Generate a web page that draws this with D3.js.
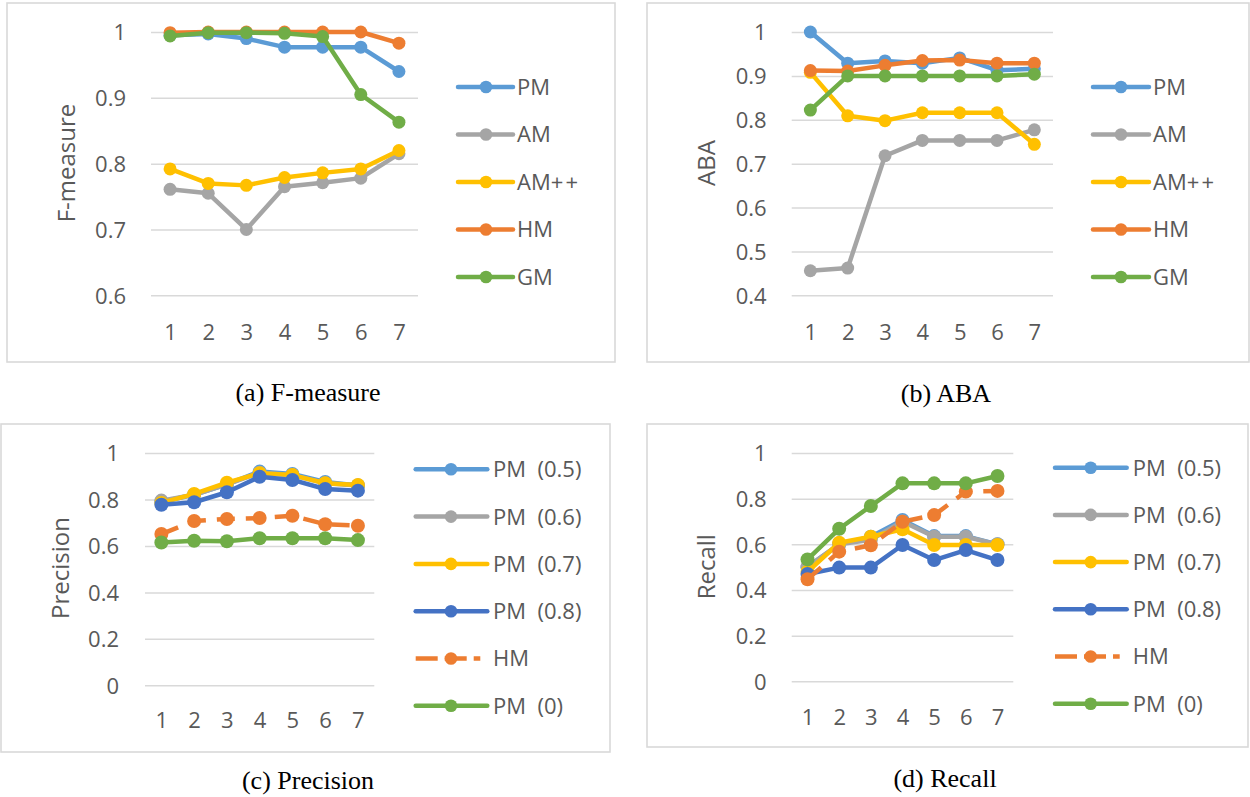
<!DOCTYPE html>
<html>
<head>
<meta charset="utf-8">
<script src="https://cdn.jsdelivr.net/npm/d3@7"></script>
<style>
  html, body { margin: 0; padding: 0; background: #fff; }
  svg { display: block; }
  text { font-family: "Open Sans", "Noto Sans", sans-serif; }
  text.caption { font-family: "Liberation Serif", "Times New Roman", serif; }
</style>
</head>
<body>
<svg id="chart" width="1250" height="797"></svg>
<script>
// ---------------- DATA ----------------
const categories = [1, 2, 3, 4, 5, 6, 7];

// (a) F-measure
const fmTicks = [0.6, 0.7, 0.8, 0.9, 1];
const fmNames = ["PM", "AM", "AM++", "HM", "GM"];
const fmPM   = [0.995, 0.997, 0.990, 0.977, 0.977, 0.977, 0.940];
const fmAM   = [0.761, 0.755, 0.700, 0.765, 0.771, 0.778, 0.815];
const fmAMpp = [0.792, 0.770, 0.767, 0.779, 0.786, 0.792, 0.820];
const fmHM   = [0.999, 1.000, 1.000, 1.000, 1.000, 1.000, 0.983];
const fmGM   = [0.994, 0.999, 0.999, 0.998, 0.993, 0.905, 0.863];

// (b) ABA
const abaTicks = [0.4, 0.5, 0.6, 0.7, 0.8, 0.9, 1];
const abaNames = ["PM", "AM", "AM++", "HM", "GM"];
const abaPM   = [1.000, 0.929, 0.934, 0.929, 0.941, 0.913, 0.916];
const abaAM   = [0.456, 0.462, 0.718, 0.753, 0.753, 0.753, 0.777];
const abaAMpp = [0.908, 0.809, 0.798, 0.816, 0.816, 0.816, 0.744];
const abaHM   = [0.912, 0.911, 0.924, 0.935, 0.936, 0.929, 0.929];
const abaGM   = [0.822, 0.900, 0.900, 0.900, 0.900, 0.900, 0.904];

// (c) Precision
const prTicks = [0, 0.2, 0.4, 0.6, 0.8, 1];
const prNames = ["PM (0.5)", "PM (0.6)", "PM (0.7)", "PM (0.8)", "HM", "PM (0)"];
const prPM05 = [0.790, 0.820, 0.865, 0.920, 0.910, 0.875, 0.860];
const prPM06 = [0.795, 0.820, 0.865, 0.915, 0.905, 0.870, 0.860];
const prPM07 = [0.785, 0.824, 0.872, 0.913, 0.905, 0.870, 0.862];
const prPM08 = [0.777, 0.788, 0.831, 0.898, 0.884, 0.845, 0.838];
const prHM   = [0.651, 0.707, 0.716, 0.720, 0.730, 0.693, 0.687];
const prPM0  = [0.615, 0.622, 0.620, 0.633, 0.633, 0.633, 0.625];

// (d) Recall
const reTicks = [0, 0.2, 0.4, 0.6, 0.8, 1];
const reNames = ["PM (0.5)", "PM (0.6)", "PM (0.7)", "PM (0.8)", "HM", "PM (0)"];
const rePM05 = [0.500, 0.600, 0.633, 0.707, 0.636, 0.636, 0.600];
const rePM06 = [0.502, 0.600, 0.620, 0.700, 0.633, 0.633, 0.600];
const rePM07 = [0.480, 0.607, 0.633, 0.666, 0.597, 0.597, 0.597];
const rePM08 = [0.470, 0.498, 0.498, 0.597, 0.531, 0.575, 0.531];
const reHM   = [0.447, 0.568, 0.596, 0.699, 0.728, 0.831, 0.834];
const rePM0  = [0.534, 0.668, 0.768, 0.867, 0.867, 0.867, 0.899];

const captions = ["(a) F-measure", "(b) ABA", "(c) Precision", "(d) Recall"];
const yTitles = ["F-measure", "ABA", "Precision", "Recall"];

// ---------------- STYLE / LAYOUT ----------------
const C = { blue: "#5B9BD5", orange: "#ED7D31", gray: "#A5A5A5", yellow: "#FFC000", dblue: "#4472C4", green: "#70AD47" };
const textColor = "#595959";
const gridColor = "#D9D9D9";

const panels = [
  { frame: [7, 3, 615, 362], plot: { x0: 151, x1: 418, yTop: 32, yBot: 295.3 }, domain: [0.6, 1], ticks: fmTicks,
    tickRight: 126, xLabelY: 332, titleX: 66, titleY: 163, r: 6.5,
    legend: { lx0: 458, lx1: 513, mx: 486, tx: 517, y0: 87, dy: 47.5 },
    caption: { x: 308, y: 392 },
    series: [[fmNames[0], fmPM, C.blue], [fmNames[1], fmAM, C.gray], [fmNames[2], fmAMpp, C.yellow], [fmNames[3], fmHM, C.orange], [fmNames[4], fmGM, C.green]] },
  { frame: [647, 3, 1249, 362], plot: { x0: 791.7, x1: 1053, yTop: 32, yBot: 295.3 }, domain: [0.4, 1], ticks: abaTicks,
    tickRight: 766.7, xLabelY: 332, titleX: 706, titleY: 163, r: 6.5,
    legend: { lx0: 1093, lx1: 1149, mx: 1121, tx: 1153, y0: 87, dy: 47.5 },
    caption: { x: 946, y: 393 },
    series: [[abaNames[0], abaPM, C.blue], [abaNames[1], abaAM, C.gray], [abaNames[2], abaAMpp, C.yellow], [abaNames[3], abaHM, C.orange], [abaNames[4], abaGM, C.green]] },
  { frame: [1, 424, 610, 752], plot: { x0: 145, x1: 374.3, yTop: 453, yBot: 685.3 }, domain: [0, 1], ticks: prTicks,
    tickRight: 119, xLabelY: 720, titleX: 60, titleY: 568, r: 7,
    legend: { lx0: 415.7, lx1: 487.3, mx: 451, tx: 493, y0: 469.3, dy: 47.3 },
    caption: { x: 308, y: 780 },
    series: [[prNames[0], prPM05, C.blue], [prNames[1], prPM06, C.gray], [prNames[2], prPM07, C.yellow], [prNames[3], prPM08, C.dblue], [prNames[4], prHM, C.orange, true], [prNames[5], prPM0, C.green]] },
  { frame: [647, 424, 1248, 747], plot: { x0: 791.7, x1: 1013.3, yTop: 453, yBot: 681.3 }, domain: [0, 1], ticks: reTicks,
    tickRight: 766.7, xLabelY: 717, titleX: 706.7, titleY: 566.7, r: 7,
    legend: { lx0: 1055, lx1: 1126.7, mx: 1090.7, tx: 1132.7, y0: 467.7, dy: 47.2 },
    caption: { x: 945, y: 778 },
    series: [[reNames[0], rePM05, C.blue], [reNames[1], rePM06, C.gray], [reNames[2], rePM07, C.yellow], [reNames[3], rePM08, C.dblue], [reNames[4], reHM, C.orange, true], [reNames[5], rePM0, C.green]] }
];

const svg = d3.select("#chart");
const fmt = d => (d === 1 ? "1" : d === 0 ? "0" : d3.format(".1f")(d));
const dash = "18,11";

panels.forEach((p, i) => {
  const g = svg.append("g");
  // frame
  g.append("rect")
    .attr("x", p.frame[0]).attr("y", p.frame[1])
    .attr("width", p.frame[2] - p.frame[0]).attr("height", p.frame[3] - p.frame[1])
    .attr("fill", "#fff").attr("stroke", gridColor).attr("stroke-width", 1.6);

  const x = d3.scalePoint().domain(categories).range([p.plot.x0, p.plot.x1]).padding(0.5);
  const y = d3.scaleLinear().domain(p.domain).range([p.plot.yBot, p.plot.yTop]);

  // y axis gridlines + labels
  const yAxis = d3.axisLeft(y).tickValues(p.ticks).tickFormat(fmt)
    .tickSize(-(p.plot.x1 - p.plot.x0)).tickPadding(p.plot.x0 - p.tickRight);
  const ya = g.append("g").attr("transform", `translate(${p.plot.x0},0)`).call(yAxis);
  ya.select(".domain").remove();
  ya.selectAll(".tick line").attr("stroke", gridColor).attr("stroke-width", 1.5);
  ya.selectAll(".tick text").attr("fill", textColor).attr("font-size", 22)
    .style("font-family", "'Open Sans', sans-serif").attr("dy", "0.36em");

  // x axis labels
  const xAxis = d3.axisBottom(x).tickSize(0).tickPadding(0);
  const xa = g.append("g").attr("transform", `translate(0,${p.xLabelY})`).call(xAxis);
  xa.select(".domain").remove();
  xa.selectAll(".tick text").attr("fill", textColor).attr("font-size", 22)
    .style("font-family", "'Open Sans', sans-serif").attr("dy", "0.36em").attr("y", 0);

  // y title
  g.append("text")
    .attr("transform", `translate(${p.titleX},${p.titleY}) rotate(-90)`)
    .attr("text-anchor", "middle").attr("dy", "0.36em")
    .attr("fill", textColor).attr("font-size", 24).text(yTitles[i]);

  // series
  const line = d3.line().x((d, k) => x(categories[k])).y(d => y(d));
  p.series.forEach(([name, vals, col, dashed]) => {
    const sg = g.append("g");
    sg.append("path").datum(vals).attr("d", line)
      .attr("fill", "none").attr("stroke", col).attr("stroke-width", 4.5)
      .attr("stroke-linejoin", "round").attr("stroke-linecap", dashed ? "butt" : "round")
      .attr("stroke-dasharray", dashed ? dash : null);
    sg.selectAll("circle").data(vals).enter().append("circle")
      .attr("cx", (d, k) => x(categories[k])).attr("cy", d => y(d))
      .attr("r", p.r).attr("fill", col);
  });

  // legend
  const L = p.legend;
  p.series.forEach(([name, vals, col, dashed], k) => {
    const ly = L.y0 + k * L.dy;
    g.append("line").attr("x1", L.lx0).attr("x2", dashed ? L.lx1 - 7 : L.lx1).attr("y1", ly).attr("y2", ly)
      .attr("stroke", col).attr("stroke-width", 4.5).attr("stroke-linecap", dashed ? "butt" : "round")
      .attr("stroke-dasharray", dashed ? "22,7" : null);
    g.append("circle").attr("cx", L.mx).attr("cy", ly).attr("r", 6.3).attr("fill", col);
    g.append("text").attr("x", L.tx).attr("y", ly).attr("dy", "0.36em")
      .attr("fill", textColor).attr("font-size", 22).attr("xml:space", "preserve")
      .text(name.replace(" ", "\u00A0\u00A0").replace("++", "+\u200A+"));
  });

  // caption
  svg.append("text").attr("class", "caption")
    .attr("x", p.caption.x).attr("y", p.caption.y).attr("dy", "0.35em")
    .attr("text-anchor", "middle").attr("fill", "#000")
    .attr("font-size", 26)
    .text(captions[i]);
});
</script>
</body>
</html>
